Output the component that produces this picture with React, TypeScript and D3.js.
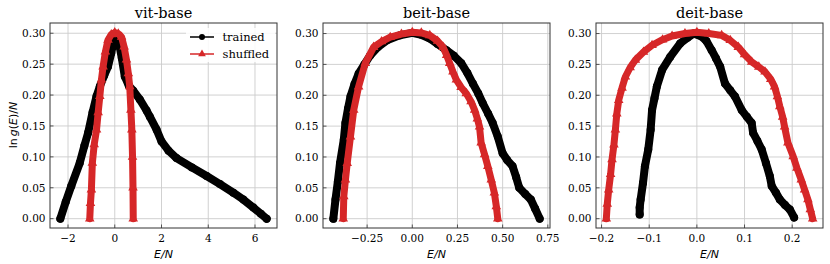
import React from 'react';
import * as d3 from 'd3';

// ---- data (E/N, ln g(E)/N) ----
const titles = ['vit-base', 'beit-base', 'deit-base'];
const seriesNames = ['trained', 'shuffled'];

const vitTrained: [number, number][] = [
  [-2.33, 0.0], [-2.1, 0.027], [-1.86, 0.053], [-1.5, 0.09], [-1.3, 0.118], [-1.14, 0.139],
  [-0.95, 0.172], [-0.78, 0.198], [-0.64, 0.214], [-0.45, 0.232], [-0.29, 0.246],
  [-0.15, 0.268], [-0.05, 0.288], [0.0, 0.298], [0.1, 0.292], [0.21, 0.278], [0.3, 0.26],
  [0.43, 0.23], [0.6, 0.215], [0.79, 0.207], [1.07, 0.193], [1.36, 0.175], [1.5, 0.165],
  [1.79, 0.144], [2.0, 0.125], [2.3, 0.11], [2.64, 0.098], [3.3, 0.083], [3.93, 0.069],
  [4.5, 0.056], [5.07, 0.042], [5.5, 0.031], [5.93, 0.018], [6.25, 0.008], [6.5, 0.0],
];
const vitShuffled: [number, number][] = [
  [-1.07, 0.0], [-1.04, 0.025], [-1.0, 0.047], [-0.96, 0.09], [-0.88, 0.12], [-0.78, 0.144],
  [-0.71, 0.172], [-0.64, 0.198], [-0.57, 0.225], [-0.5, 0.246], [-0.4, 0.27],
  [-0.29, 0.289], [-0.15, 0.298], [0.0, 0.301], [0.15, 0.299], [0.29, 0.294], [0.4, 0.278],
  [0.5, 0.257], [0.58, 0.235], [0.64, 0.214], [0.69, 0.176], [0.73, 0.144], [0.76, 0.1],
  [0.78, 0.05], [0.79, 0.0],
];

const beitTrained: [number, number][] = [
  [-0.437, 0.0], [-0.425, 0.031], [-0.412, 0.06], [-0.4, 0.09], [-0.379, 0.128],
  [-0.37, 0.155], [-0.356, 0.178], [-0.342, 0.198], [-0.32, 0.218], [-0.297, 0.235],
  [-0.265, 0.25], [-0.232, 0.265], [-0.19, 0.278], [-0.14, 0.289], [-0.07, 0.297],
  [0.0, 0.301], [0.05, 0.298], [0.097, 0.292], [0.14, 0.283], [0.189, 0.273],
  [0.23, 0.264], [0.271, 0.252], [0.305, 0.236], [0.335, 0.219], [0.365, 0.203],
  [0.39, 0.187], [0.42, 0.17], [0.445, 0.155], [0.473, 0.133], [0.5, 0.106],
  [0.525, 0.095], [0.555, 0.085], [0.575, 0.067], [0.592, 0.05], [0.625, 0.04],
  [0.656, 0.031], [0.68, 0.016], [0.705, 0.0],
];
const beitShuffled: [number, number][] = [
  [-0.382, 0.0], [-0.379, 0.036], [-0.37, 0.063], [-0.36, 0.09], [-0.342, 0.133],
  [-0.324, 0.176], [-0.297, 0.214], [-0.26, 0.252], [-0.214, 0.278], [-0.17, 0.287],
  [-0.122, 0.294], [-0.06, 0.299], [0.0, 0.302], [0.05, 0.301], [0.097, 0.297],
  [0.14, 0.288], [0.17, 0.278], [0.19, 0.265], [0.207, 0.252], [0.225, 0.238],
  [0.244, 0.225], [0.27, 0.213], [0.299, 0.203], [0.325, 0.19], [0.345, 0.176],
  [0.36, 0.162], [0.372, 0.149], [0.381, 0.123], [0.4, 0.104], [0.418, 0.085],
  [0.437, 0.063], [0.454, 0.042], [0.465, 0.02], [0.473, 0.0],
];

const deitTrained: [number, number][] = [
  [-0.12, 0.007], [-0.12, 0.018], [-0.118, 0.031], [-0.113, 0.058], [-0.109, 0.085],
  [-0.102, 0.112], [-0.097, 0.144], [-0.094, 0.176], [-0.089, 0.195], [-0.084, 0.214],
  [-0.073, 0.241], [-0.056, 0.262], [-0.035, 0.284], [-0.02, 0.293], [-0.007, 0.3],
  [0.01, 0.295], [0.02, 0.288], [0.031, 0.273], [0.04, 0.26], [0.049, 0.246],
  [0.059, 0.219], [0.07, 0.208], [0.08, 0.198], [0.094, 0.176], [0.105, 0.165],
  [0.115, 0.155], [0.118, 0.139], [0.127, 0.126], [0.136, 0.112], [0.145, 0.09],
  [0.153, 0.069], [0.157, 0.053], [0.166, 0.042], [0.174, 0.031], [0.185, 0.022],
  [0.195, 0.015], [0.204, 0.002],
];
const deitShuffled: [number, number][] = [
  [-0.19, 0.0], [-0.188, 0.024], [-0.185, 0.047], [-0.181, 0.072], [-0.178, 0.096],
  [-0.174, 0.12], [-0.171, 0.144], [-0.168, 0.17], [-0.164, 0.192], [-0.157, 0.212],
  [-0.15, 0.23], [-0.14, 0.245], [-0.129, 0.257], [-0.112, 0.27], [-0.094, 0.281],
  [-0.072, 0.29], [-0.052, 0.296], [-0.025, 0.3], [0.0, 0.302], [0.025, 0.3],
  [0.052, 0.297], [0.07, 0.289], [0.087, 0.278], [0.1, 0.266], [0.115, 0.254],
  [0.13, 0.246], [0.143, 0.238], [0.155, 0.226], [0.163, 0.214], [0.169, 0.198],
  [0.174, 0.182], [0.18, 0.165], [0.184, 0.149], [0.191, 0.123], [0.202, 0.101],
  [0.21, 0.082], [0.219, 0.063], [0.226, 0.047], [0.233, 0.031], [0.238, 0.015],
  [0.243, 0.0],
];

const trainedData = [vitTrained, beitTrained, deitTrained];
const shuffledData = [vitShuffled, beitShuffled, deitShuffled];
const xTicks = [
  [-2, 0, 2, 4, 6],
  [-0.25, 0, 0.25, 0.5, 0.75],
  [-0.2, -0.1, 0, 0.1, 0.2],
];
const yTicks = [0, 0.05, 0.1, 0.15, 0.2, 0.25, 0.3];

// ---- layout ----
const W = 830;
const H = 264;
const axTop = 23;
const axBottom = 228;
const axLefts = [50, 323, 596];
const axWidth = 227;
const xFormats = [d3.format('d'), d3.format('.2f'), d3.format('.1f')];
const yFormat = d3.format('.2f');

const BLACK = '#000000';
const RED = '#d62728';
const SERIF = '"DejaVu Serif", serif';
const SANS = '"DejaVu Sans", sans-serif';

function triPath(size: number) {
  return d3.symbol().type(d3.symbolTriangle).size(size)()!;
}

function Panel({ i }: { i: number }) {
  const left = axLefts[i];
  const right = left + axWidth;
  const all = [...trainedData[i], ...shuffledData[i]];
  const [xmin, xmax] = d3.extent(all, (d) => d[0]) as [number, number];
  const [ymin, ymax] = d3.extent(all, (d) => d[1]) as [number, number];
  const xPad = (xmax - xmin) * 0.05;
  const yPad = (0.3015 - Math.min(ymin, 0)) * 0.05;
  const x = d3.scaleLinear().domain([xmin - xPad, xmax + xPad]).range([left, right]);
  const y = d3.scaleLinear().domain([Math.min(ymin, 0) - yPad, Math.max(ymax, 0.3015) + yPad]).range([axBottom, axTop]);
  const line = d3
    .line<[number, number]>()
    .x((d) => x(d[0]))
    .y((d) => y(d[1]))
    .curve(d3.curveLinear);
  const tri = triPath(40);

  const trained = (
    <g>
      <path d={line(trainedData[i])!} fill="none" stroke={BLACK} strokeWidth={8} strokeLinejoin="round" strokeLinecap="round" />
      {trainedData[i].map((d, k) => (
        <circle key={k} cx={x(d[0])} cy={y(d[1])} r={4} fill={BLACK} />
      ))}
    </g>
  );
  const shuffled = (
    <g>
      <path d={line(shuffledData[i])!} fill="none" stroke={RED} strokeWidth={7} strokeLinejoin="round" strokeLinecap="round" />
      {shuffledData[i].map((d, k) => (
        <path key={k} d={tri} transform={`translate(${x(d[0])},${y(d[1])})`} fill={RED} />
      ))}
    </g>
  );

  return (
    <g>
      <defs>
        <clipPath id={`clip${i}`}>
          <rect x={left} y={axTop} width={axWidth} height={axBottom - axTop} />
        </clipPath>
      </defs>
      {/* grid */}
      {xTicks[i].map((t) => (
        <line key={'gx' + t} x1={x(t)} x2={x(t)} y1={axTop} y2={axBottom} stroke="#cccccc" strokeWidth={0.9} />
      ))}
      {yTicks.map((t) => (
        <line key={'gy' + t} x1={left} x2={right} y1={y(t)} y2={y(t)} stroke="#cccccc" strokeWidth={0.9} />
      ))}
      <g clipPath={`url(#clip${i})`}>
        {trained}
        {shuffled}
      </g>
      {/* ticks (inward) */}
      {xTicks[i].map((t) => (
        <g key={'tx' + t}>
          <line x1={x(t)} x2={x(t)} y1={axBottom} y2={axBottom - 3.5} stroke="#333" strokeWidth={0.8} />
          <text x={x(t)} y={242} textAnchor="middle" fontFamily={SERIF} fontSize={10.5} fill="#000">
            {xFormats[i](t)}
          </text>
        </g>
      ))}
      {yTicks.map((t) => (
        <g key={'ty' + t}>
          <line x1={left} x2={left + 3.5} y1={y(t)} y2={y(t)} stroke="#333" strokeWidth={0.8} />
          <text x={left - 4.5} y={y(t)} dy="0.36em" textAnchor="end" fontFamily={SERIF} fontSize={10.5} fill="#000">
            {yFormat(t)}
          </text>
        </g>
      ))}
      <rect x={left} y={axTop} width={axWidth} height={axBottom - axTop} fill="none" stroke="#333" strokeWidth={1} />
      {/* title */}
      <text x={(left + right) / 2} y={18} textAnchor="middle" fontFamily={SERIF} fontSize={14.5} fill="#000">
        {titles[i]}
      </text>
      {/* x label */}
      <text x={(left + right) / 2} y={258} textAnchor="middle" fontFamily={SANS} fontSize={11} fontStyle="italic" fill="#000">
        E/N
      </text>
      {i === 0 && (
        <g>
          <rect x={186} y={28} width={89} height={34} fill="#ffffff" opacity={0.85} />
          <line x1={190} x2={214} y1={37} y2={37} stroke={BLACK} strokeWidth={1.5} />
          <circle cx={202} cy={37} r={3} fill={BLACK} />
          <text x={222.5} y={40.5} fontFamily={SERIF} fontSize={11.5} fill="#000">
            {seriesNames[0]}
          </text>
          <line x1={190} x2={214} y1={54} y2={54} stroke={RED} strokeWidth={1.5} />
          <path d={triPath(26)} transform="translate(202,54)" fill={RED} />
          <text x={222.5} y={57.5} fontFamily={SERIF} fontSize={11.5} fill="#000">
            {seriesNames[1]}
          </text>
        </g>
      )}
    </g>
  );
}

export default function App() {
  return (
    <div>
      <style>{`body{margin:0}`}</style>
      <svg width={W} height={H} style={{ display: 'block', background: '#fff' }}>
        {[0, 1, 2].map((i) => (
          <Panel key={i} i={i} />
        ))}
        <text transform="translate(16.5,125) rotate(-90)" textAnchor="middle" fontFamily={SANS} fontSize={11} fill="#000">
          <tspan>ln</tspan>
          <tspan dx={2} fontStyle="italic">g</tspan>
          <tspan>(</tspan>
          <tspan fontStyle="italic">E</tspan>
          <tspan>)/</tspan>
          <tspan fontStyle="italic">N</tspan>
        </text>
      </svg>
    </div>
  );
}
